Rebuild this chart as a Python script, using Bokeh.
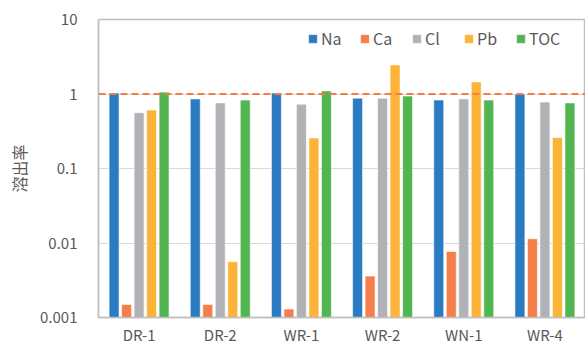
from bokeh.plotting import figure
from bokeh.models import (FactorRange, FixedTicker, CustomJSTickFormatter, Span,
                          Legend, LegendItem, ColumnDataSource)
from bokeh.transform import dodge
from bokeh.embed import file_html
from bokeh.resources import INLINE

samples = ["DR-1", "DR-2", "WR-1", "WR-2", "WN-1", "WR-4"]
series = ["Na", "Ca", "Cl", "Pb", "TOC"]
na = [1.03, 0.86, 1.03, 0.88, 0.83, 1.00]
ca = [0.0015, 0.0015, 0.0013, 0.0036, 0.0077, 0.0114]
cl = [0.56, 0.76, 0.73, 0.88, 0.86, 0.78]
pb = [0.61, 0.0056, 0.257, 2.45, 1.45, 0.26]
toc = [1.06, 0.83, 1.10, 0.94, 0.83, 0.76]
y_ticks = [0.001, 0.01, 0.1, 1, 10]
limit = 1.0

colors = ["#2B7BC2", "#F57F4A", "#B1B2B6", "#FCB338", "#53B552"]
FONT = "Noto Sans CJK JP"
GRAY = "#595959"

src = ColumnDataSource(dict(x=samples, Na=na, Ca=ca, Cl=cl, Pb=pb, TOC=toc))

p = figure(x_range=FactorRange(*samples), y_axis_type="log", y_range=(0.001, 10),
           width=585, height=347, output_backend="svg", toolbar_location=None,
           min_border_left=98, min_border_right=0, min_border_top=19, min_border_bottom=29)

offsets = [-0.308, -0.154, 0.0, 0.154, 0.308]
items = []
for name, off, col in zip(series, offsets, colors):
    r = p.vbar(x=dodge("x", off, range=p.x_range), top=name, bottom=0.001, width=0.123,
               source=src, fill_color=col, line_color="white", line_alpha=0.6, line_width=1)
    items.append(LegendItem(label=name, renderers=[r]))

p.add_layout(Span(location=limit, dimension="width", line_color="#F47D45",
                  line_dash="7 4", line_width=2))

legend = Legend(items=items, orientation="horizontal", location=(209, 267),
                margin=0, padding=0, spacing=8, label_standoff=3, label_width=30,
                glyph_width=11, glyph_height=11,
                label_text_font=FONT, label_text_font_size="16px", label_text_color=GRAY,
                background_fill_alpha=0, border_line_alpha=0, label_height=14)
p.add_layout(legend, "center")

p.yaxis.ticker = FixedTicker(ticks=y_ticks, minor_ticks=[])
p.yaxis.formatter = CustomJSTickFormatter(code="return Number(tick.toPrecision(6)).toString();")
p.yaxis.axis_label = "溶出率"
p.yaxis.axis_label_text_font = FONT
p.yaxis.axis_label_text_font_size = "16px"
p.yaxis.axis_label_text_font_style = "normal"
p.yaxis.axis_label_text_color = GRAY
p.yaxis.axis_label_standoff = 6
p.yaxis.major_label_standoff = 15

for ax in (p.xaxis, p.yaxis):
    ax.axis_line_color = "#BFBFBF"
    ax.axis_line_width = 1.5
    ax.major_tick_line_color = None
    ax.minor_tick_line_color = None
    ax.major_label_text_font = FONT
    ax.major_label_text_font_size = "15px"
    ax.major_label_text_color = GRAY
p.xaxis.major_label_standoff = 0

p.xgrid.grid_line_color = None
p.ygrid.grid_line_color = "#D9D9D9"
p.ygrid.grid_line_width = 1.2
p.outline_line_color = "#BFBFBF"
p.outline_line_width = 1.5

open("out.html", "w").write(file_html(p, INLINE))
